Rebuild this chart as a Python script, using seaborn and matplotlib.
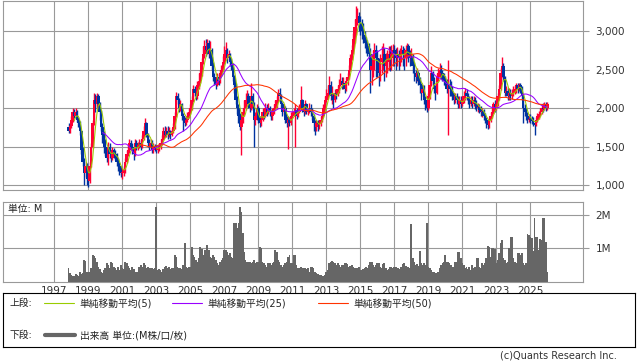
import numpy as np
import pandas as pd
import matplotlib
matplotlib.use("Agg")
import matplotlib.pyplot as plt
import seaborn as sns

# monthly bars, Nov 1997 .. Jan 2026
start = "1997-11-01"
first_open = 1750

closes = [
    1700, 1760,  # 1997
    1850, 1950, 1900, 1950, 1850, 1800, 1700, 1450, 1300, 1150, 1250, 1080,  # 1998
    1050, 1250, 1500, 1800, 2100, 2050, 2150, 2050, 1950, 1750, 1650, 1500,  # 1999
    1450, 1350, 1500, 1400, 1350, 1450, 1400, 1380, 1300, 1250, 1200, 1150,  # 2000
    1170, 1200, 1300, 1400, 1450, 1550, 1500, 1450, 1400, 1550, 1500, 1520,  # 2001
    1550, 1500, 1600, 1700, 1800, 1650, 1550, 1500, 1550, 1450, 1500, 1480,  # 2002
    1450, 1480, 1500, 1550, 1600, 1700, 1650, 1700, 1650, 1700, 1650, 1700,  # 2003
    1750, 1900, 2150, 2100, 2000, 2050, 1900, 1850, 1800, 1850, 1900, 1950,  # 2004
    2000, 2100, 2250, 2200, 2150, 2300, 2350, 2450, 2600, 2700, 2800, 2750,  # 2005
    2850, 2700, 2750, 2550, 2400, 2350, 2300, 2400, 2350, 2450, 2500, 2600,  # 2006
    2700, 2750, 2650, 2700, 2600, 2550, 2400, 2300, 2100, 2000, 1900, 1750,  # 2007
    1850, 1950, 2000, 2100, 2150, 2050, 2000, 2150, 2050, 1850, 1900, 2000,  # 2008
    1850, 1800, 1850, 1950, 1900, 2000, 1950, 2000, 1950, 1900, 1950, 2000,  # 2009
    2050, 2100, 2200, 2150, 2050, 1950, 2000, 1850, 1800, 1850, 1800, 1900,  # 2010
    1920, 1950, 1980, 1900, 1950, 2000, 2100, 2000, 1950, 2050, 1950, 1960,  # 2011
    2000, 1950, 1900, 1800, 1750, 1800, 1790, 1800, 1850, 1900, 2000, 2100,  # 2012
    2150, 2200, 2300, 2150, 2160, 2100, 2200, 2180, 2250, 2300, 2350, 2300,  # 2013
    2320, 2250, 2350, 2400, 2500, 2650, 2750, 2900, 3050, 3150, 3200, 3100,  # 2014
    3050, 3000, 2950, 2850, 2800, 2750, 2700, 2500, 2550, 2650, 2750, 2650,  # 2015
    2500, 2450, 2600, 2650, 2700, 2550, 2600, 2650, 2700, 2650, 2700, 2750,  # 2016
    2700, 2650, 2700, 2650, 2700, 2750, 2700, 2650, 2750, 2800, 2700, 2650,  # 2017
    2680, 2550, 2450, 2400, 2450, 2350, 2300, 2200, 2250, 2100, 2050, 2000,  # 2018
    2150, 2300, 2450, 2350, 2250, 2200, 2400, 2450, 2500, 2450, 2400, 2350,  # 2019
    2330, 2250, 2300, 2250, 2200, 2150, 2100, 2150, 2100, 2050, 2100, 2050,  # 2020
    2100, 2150, 2200, 2150, 2100, 2050, 2100, 2050, 2100, 2050, 2000, 2010,  # 2021
    1980, 1950, 1960, 1900, 1850, 1800, 1780, 1850, 1900, 1950, 2050, 2000,  # 2022
    2050, 2150, 2250, 2450, 2550, 2400, 2200, 2220, 2150, 2200, 2150, 2200,  # 2023
    2220, 2250, 2300, 2250, 2300, 2250, 2150, 2000, 1950, 1900, 1850, 1860,  # 2024
    1850, 1830, 1800, 1780, 1850, 1900, 1920, 1950, 2000, 1990, 2050, 2000,  # 2025
    2050,  # 2026
]

highs = [
    1800, 1790,
    1900, 2000, 1990, 2000, 1970, 1880, 1830, 1720, 1500, 1350, 1300, 1280,
    1150, 1300, 1550, 1850, 2190, 2180, 2200, 2180, 2080, 1980, 1800, 1700,
    1600, 1500, 1560, 1550, 1450, 1500, 1480, 1450, 1420, 1350, 1300, 1250,
    1220, 1250, 1350, 1450, 1520, 1600, 1580, 1540, 1480, 1600, 1580, 1560,
    1600, 1580, 1650, 1760, 1870, 1820, 1680, 1600, 1600, 1580, 1540, 1530,
    1520, 1520, 1550, 1600, 1650, 1750, 1760, 1750, 1760, 1750, 1720, 1740,
    1800, 1950, 2210, 2200, 2130, 2100, 2070, 1930, 1880, 1900, 1950, 2000,
    2050, 2150, 2300, 2280, 2240, 2350, 2450, 2500, 2650, 2800, 2880, 2900,
    2900, 2880, 2870, 2780, 2600, 2450, 2400, 2450, 2440, 2500, 2560, 2680,
    2800, 2860, 2780, 2750, 2720, 2650, 2580, 2430, 2320, 2150, 2050, 1930,
    1900, 2000, 2100, 2200, 2230, 2200, 2100, 2320, 2200, 2080, 1950, 2050,
    2030, 1900, 1900, 2000, 2000, 2060, 2050, 2060, 2030, 1980, 2000, 2050,
    2100, 2150, 2250, 2260, 2180, 2080, 2050, 2020, 1900, 1900, 1880, 1950,
    1960, 2000, 2050, 2000, 2000, 2050, 2280, 2120, 2000, 2100, 2060, 2000,
    2060, 2050, 2000, 1920, 1850, 1850, 1850, 1850, 1900, 1950, 2050, 2150,
    2250, 2300, 2420, 2350, 2280, 2200, 2250, 2250, 2300, 2380, 2450, 2400,
    2400, 2350, 2400, 2450, 2560, 2700, 2820, 2980, 3150, 3320, 3300, 3250,
    3200, 3150, 3100, 3000, 2920, 2880, 2850, 2780, 2700, 2760, 2850, 2820,
    2750, 2650, 2700, 2800, 2850, 2780, 2720, 2760, 2800, 2800, 2820, 2830,
    2820, 2780, 2790, 2760, 2780, 2820, 2800, 2780, 2820, 2850, 2830, 2760,
    2780, 2700, 2600, 2500, 2520, 2480, 2400, 2330, 2300, 2300, 2150, 2100,
    2200, 2350, 2550, 2480, 2400, 2300, 2450, 2520, 2580, 2560, 2500, 2450,
    2420, 2380, 2620, 2380, 2350, 2280, 2200, 2200, 2200, 2150, 2160, 2150,
    2150, 2220, 2260, 2250, 2200, 2150, 2150, 2150, 2150, 2140, 2100, 2070,
    2050, 2030, 2000, 1990, 1930, 1880, 1850, 1880, 1950, 2000, 2080, 2100,
    2100, 2200, 2300, 2520, 2660, 2580, 2420, 2280, 2260, 2260, 2250, 2250,
    2280, 2300, 2330, 2330, 2320, 2320, 2280, 2180, 2050, 2000, 1950, 1920,
    1920, 1900, 1880, 1820, 1880, 1940, 1960, 2000, 2040, 2060, 2080, 2080,
    2080,
]

lows = [
    1670, 1680,
    1740, 1820, 1870, 1860, 1820, 1750, 1650, 1400, 1250, 1000, 1100, 1000,
    980, 1020, 1230, 1480, 1780, 1950, 2000, 1980, 1850, 1700, 1550, 1420,
    1380, 1300, 1260, 1350, 1300, 1320, 1350, 1320, 1250, 1180, 1130, 1100,
    1080, 1120, 1150, 1280, 1380, 1420, 1450, 1400, 1330, 1380, 1460, 1460,
    1480, 1450, 1480, 1580, 1680, 1620, 1500, 1460, 1470, 1420, 1420, 1440,
    1410, 1420, 1440, 1470, 1520, 1580, 1620, 1620, 1600, 1620, 1600, 1630,
    1680, 1730, 1880, 2050, 1950, 1960, 1850, 1700, 1760, 1780, 1820, 1870,
    1920, 1980, 2080, 2150, 2100, 2120, 2250, 2320, 2420, 2570, 2650, 2680,
    2700, 2650, 2660, 2500, 2350, 2300, 2250, 2280, 2300, 2330, 2420, 2480,
    2570, 2650, 2580, 2620, 2550, 2500, 2350, 2200, 2050, 1920, 1800, 1710,
    1390, 1800, 1900, 1980, 2050, 2000, 1950, 1980, 1980, 1500, 1780, 1850,
    1800, 1750, 1760, 1830, 1860, 1880, 1900, 1920, 1900, 1850, 1850, 1920,
    1970, 2000, 2080, 2100, 2000, 1900, 1920, 1800, 1750, 1470, 1760, 1780,
    1870, 1900, 1500, 1860, 1880, 1940, 1980, 1950, 1900, 1920, 1920, 1910,
    1930, 1900, 1850, 1700, 1650, 1700, 1700, 1730, 1760, 1820, 1880, 1980,
    2080, 2120, 2180, 2100, 2050, 2000, 2080, 2120, 2150, 2200, 2280, 2250,
    2250, 2200, 2220, 2300, 2380, 2480, 2620, 2700, 2850, 2950, 3080, 3000,
    2950, 2900, 2850, 2780, 2720, 2680, 2620, 2190, 2300, 2400, 2500, 2400,
    2400, 2280, 2350, 2450, 2500, 2350, 2400, 2450, 2500, 2480, 2500, 2550,
    2550, 2500, 2550, 2500, 2550, 2600, 2550, 2500, 2550, 2650, 2600, 2550,
    2600, 2450, 2350, 2330, 2350, 2300, 2200, 2100, 2150, 2050, 1980, 1950,
    1980, 2120, 2280, 2300, 2200, 2100, 2180, 2350, 2400, 2380, 2350, 2300,
    2280, 2200, 1650, 2150, 2150, 2100, 2050, 2060, 2050, 2000, 2000, 2000,
    2020, 2060, 2100, 2100, 2050, 2000, 2020, 2000, 2020, 1990, 1960, 1950,
    1930, 1900, 1880, 1850, 1800, 1740, 1730, 1740, 1820, 1870, 1920, 1950,
    1970, 2030, 2100, 2230, 2400, 2350, 2150, 2150, 2100, 2100, 2100, 2120,
    2150, 2180, 2200, 2200, 2220, 2200, 2100, 1800, 1900, 1850, 1800, 1820,
    1800, 1790, 1760, 1650, 1770, 1820, 1860, 1890, 1920, 1950, 1970, 1960,
    1980,
]

# volume, million shares
volumes = [
    0.40, 0.25,
    0.20, 0.18, 0.17, 0.22, 0.20, 0.18, 0.30, 0.22, 0.25, 0.65, 0.62, 0.28,
    0.30, 0.28, 0.40, 0.80, 0.78, 0.72, 0.60, 0.45, 0.38, 0.30, 0.25, 0.35,
    0.40, 0.55, 0.50, 0.40, 0.60, 0.55, 0.45, 0.40, 0.35, 0.45, 0.35, 0.50,
    0.40, 0.38, 0.60, 0.55, 0.48, 0.40, 0.35, 0.45, 0.38, 0.30, 0.28, 0.30,
    0.45, 0.50, 0.45, 0.55, 0.50, 0.40, 0.45, 0.42, 0.40, 0.42, 0.38, 0.40,
    2.25, 0.35, 0.38, 0.35, 0.30, 0.38, 0.45, 0.48, 0.42, 0.45, 0.38, 0.42,
    0.40, 0.80, 0.75, 0.45, 0.40, 0.42, 0.38, 0.50, 1.17, 0.45, 0.40, 0.45,
    0.45, 1.03, 0.80, 0.75, 0.65, 0.60, 0.70, 1.03, 0.98, 0.80, 0.95, 0.95,
    1.10, 0.95, 0.75, 0.70, 0.80, 0.75, 0.65, 0.55, 0.50, 0.60, 0.65, 0.70,
    0.95, 0.95, 0.90, 0.80, 0.85, 0.75, 0.70, 1.75, 1.75, 1.60, 1.75, 2.23,
    2.10, 1.45, 0.90, 0.65, 0.60, 0.60, 0.58, 0.55, 0.58, 0.65, 0.55, 0.60,
    0.60, 1.05, 1.00, 0.60, 0.55, 0.50, 0.45, 0.55, 0.55, 0.50, 0.55, 0.60,
    0.95, 0.90, 0.65, 0.60, 0.50, 0.45, 0.50, 0.55, 0.60, 0.75, 0.80, 0.55,
    0.55, 0.80, 0.80, 0.50, 0.40, 0.40, 0.45, 0.42, 0.40, 0.40, 0.38, 0.40,
    0.30, 0.45, 0.45, 0.42, 0.30, 0.25, 0.22, 0.20, 0.20, 0.18, 0.18, 0.20,
    0.30, 0.35, 0.55, 0.58, 0.62, 0.60, 0.55, 0.50, 0.55, 0.50, 0.45, 0.50,
    0.50, 0.55, 0.55, 0.52, 0.45, 0.48, 0.50, 0.45, 0.40, 0.42, 0.40, 0.45,
    0.35, 0.35, 0.38, 0.40, 0.45, 0.42, 0.50, 0.60, 0.58, 0.50, 0.45, 0.50,
    0.55, 0.55, 0.45, 0.40, 0.52, 0.55, 0.40, 0.35, 0.38, 0.45, 0.45, 0.40,
    0.45, 0.45, 0.42, 0.40, 0.38, 0.45, 0.52, 0.55, 0.48, 0.45, 0.45, 0.42,
    1.73, 0.70, 0.60, 0.50, 0.52, 0.48, 0.93, 0.55, 0.50, 0.55, 0.50, 1.77,
    0.45, 0.40, 0.35, 0.30, 0.28, 0.27, 0.25, 0.28, 0.40, 0.50, 0.55, 0.60,
    0.80, 0.60, 0.60, 0.55, 0.50, 0.45, 0.45, 0.60, 0.60, 0.90, 0.88, 0.70,
    0.55, 0.50, 0.40, 0.45, 0.38, 0.45, 0.35, 0.50, 0.40, 0.45, 0.70, 0.72,
    0.45, 0.42, 0.55, 0.50, 0.55, 0.70, 1.07, 1.05, 0.75, 1.00, 1.00, 0.98,
    0.55, 0.65, 0.85, 1.15, 1.25, 0.70, 0.65, 0.55, 0.60, 1.00, 1.35, 1.35,
    0.70, 0.60, 0.55, 0.85, 0.85, 0.80, 0.85, 0.55, 0.50, 0.55, 1.43, 1.40,
    1.33, 1.30, 0.92, 1.90, 1.35, 1.33, 0.95, 1.27, 1.25, 1.90, 1.90, 1.20,
    0.30,
]

price_ticks = [1000, 1500, 2000, 2500, 3000]
year_ticks = list(range(1997, 2026, 2))

# build the table
dates = pd.date_range(start, periods=len(closes), freq="MS")
df = pd.DataFrame({"close": closes, "high": highs, "low": lows, "vol": volumes})
df["x"] = dates.year + (dates.month - 1) / 12
df["open"] = df["close"].shift(1).fillna(first_open)
df["high"] = df[["high", "open", "close"]].max(axis=1)
df["low"] = df[["low", "open", "close"]].min(axis=1)
df["up"] = df["close"] >= df["open"]
for n in (5, 25, 50):
    df[f"ma{n}"] = df["close"].rolling(n).mean()

sns.set_theme(style="white")
plt.rcParams["font.family"] = ["DejaVu Sans", "Noto Sans CJK JP"]

W, H = 638, 362
fig = plt.figure(figsize=(W / 100, H / 100), dpi=100)
grid_c = "#999999"
up_c, down_c = "#ff0033", "#0033a0"

ax = fig.add_axes([3 / W, 1 - 190 / H, 580 / W, 189 / H])
vax = fig.add_axes([3 / W, 1 - 281.5 / H, 580 / W, 80 / H])
xlim = (1993.98, 2028.1)

# candles
bw = 1.8 / 12
cols = np.where(df["up"], up_c, down_c)
ax.vlines(df["x"], df["low"], df["high"], colors=cols, linewidth=1.0, zorder=2)
ax.bar(df["x"], (df["close"] - df["open"]).abs().clip(lower=10),
       bottom=df[["open", "close"]].min(axis=1), width=bw, color=cols,
       linewidth=0, zorder=3)

# moving averages
ma_colors = {"ma5": "#99cc00", "ma25": "#9900ff", "ma50": "#ff3300"}
for name, c in ma_colors.items():
    sns.lineplot(data=df, x="x", y=name, ax=ax, color=c, linewidth=0.75, zorder=4)

ax.set_xlim(*xlim)
ax.set_ylim(935, 3390)
ax.set_xticks(year_ticks)
ax.set_xticklabels([])
ax.set_yticks(price_ticks)
ax.set_yticklabels([f"{v:,}" for v in price_ticks])
ax.yaxis.tick_right()
ax.set_xlabel("")
ax.set_ylabel("")

# volume
vax.bar(df["x"], df["vol"], width=1.3 / 12, color="#666666", linewidth=0, zorder=3)
vax.set_xlim(*xlim)
vax.set_ylim(0, 2.4)
vax.set_xticks(year_ticks)
vax.set_xticklabels([str(y) for y in year_ticks])
vax.set_yticks([1, 2])
vax.set_yticklabels(["1M", "2M"])
vax.yaxis.tick_right()
vax.text(5 / 580, 0.97, "単位: M", transform=vax.transAxes, ha="left", va="top",
         fontsize=7, color="#222222", zorder=5,
         bbox=dict(facecolor="white", edgecolor="none", pad=0.5))

for a in (ax, vax):
    a.grid(True, color=grid_c, linewidth=0.8, zorder=0)
    a.set_axisbelow(True)
    for s in a.spines.values():
        s.set_color(grid_c)
        s.set_linewidth(0.8)
    a.tick_params(axis="y", length=4, width=0.8, color=grid_c, pad=5,
                  labelsize=7.5, labelcolor="#333333", right=True, left=False)
    a.tick_params(axis="x", length=0, pad=3, labelsize=7.5, labelcolor="#333333")

# legend box
lax = fig.add_axes([3 / W, 1 - 347 / H, 632 / W, 54 / H])
lax.set_xlim(3, 635)
lax.set_ylim(347, 293)
lax.set_xticks([])
lax.set_yticks([])
for s in lax.spines.values():
    s.set_color("#000000")
    s.set_linewidth(0.8)
row1, row2 = 303, 335
tk = dict(fontsize=7, color="#222222", va="center", ha="left")
lax.text(10, row1, "上段:", **tk)
items = [(44, 74, "#99cc00", "単純移動平均(5)"),
         (172, 202, "#9900ff", "単純移動平均(25)"),
         (318, 348, "#ff3300", "単純移動平均(50)")]
for x0, x1, c, label in items:
    lax.plot([x0, x1], [row1, row1], color=c, linewidth=0.8)
    lax.text(x1 + 5, row1, label, **tk)
lax.text(10, row2, "下段:", **tk)
lax.plot([45, 75], [row2, row2], color="#666666", linewidth=3)
lax.text(80, row2, "出来高 単位:(M株/口/枚)", **tk)

fig.text(617 / W, 1 - 356 / H, "(c)Quants Research Inc.", ha="right", va="center",
         fontsize=7, color="#333333")

fig.savefig("out.png", dpi=100)
